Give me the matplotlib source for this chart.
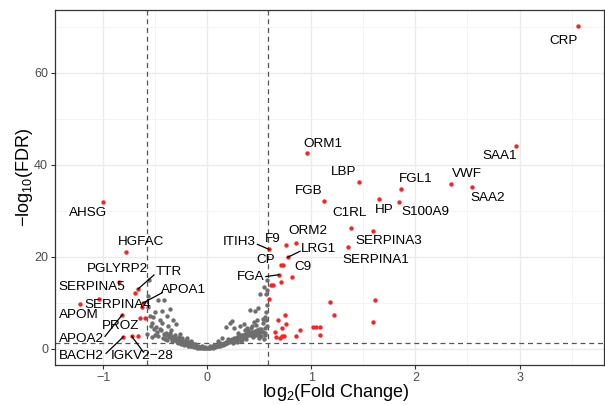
import matplotlib
matplotlib.use("Agg")
import matplotlib.pyplot as plt
import numpy as np

plt.rcParams['font.family'] = ['Liberation Sans', 'DejaVu Sans']
plt.rcParams['mathtext.default'] = 'regular'

# Significant proteins (FDR < 0.05, |log2 FC| > log2 1.5)
sig_genes = ["CRP", "SAA1", "ORM1", "LBP", "VWF", "SAA2", "FGL1", "HP", "FGB", "S100A9",
             "C1RL", "SERPINA3", "ORM2", "F9", "SERPINA1", "ITIH3", "LRG1", "CP", "", "FGA",
             "C9", "", "", "", "", "", "", "", "", "", "", "", "", "", "", "", "", "", "",
             "", "", "", "", "",
             "AHSG", "HGFAC", "PGLYRP2", "TTR", "", "SERPINA5", "APOM", "APOA1", "SERPINA4",
             "PROZ", "", "APOA2", "BACH2", "IGKV2-28", ""]
sig_lfc = [3.565, 2.962, 0.959, 1.462, 2.340, 2.542, 1.859, 1.648, 1.125, 1.843,
           1.379, 1.596, 0.850, 0.757, 1.353, 0.593, 0.773, 0.709, 0.731, 0.686,
           0.811, 0.709, 0.610, 0.629, 0.596, 1.613, 1.180, 1.218, 0.747, 0.683,
           1.590, 0.757, 1.019, 1.042, 1.081, 0.718, 0.888, 0.651, 1.081, 0.715,
           0.735, 0.856, 0.663, 0.702,
           -1.000, -0.785, -0.849, -0.666, -0.695, -1.041, -1.226, -0.621, -0.625,
           -0.650, -0.599, -0.818, -0.808, -0.727, -0.663]
sig_fdr = [70.2, 44.1, 42.5, 36.2, 35.8, 35.1, 34.8, 32.5, 32.2, 32.0,
           26.3, 25.5, 23.0, 22.5, 22.2, 21.6, 19.9, 18.2, 18.2, 16.1,
           15.6, 14.5, 13.95, 13.95, 10.9, 10.5, 10.1, 7.34, 7.41, 6.33,
           5.83, 5.46, 4.67, 4.82, 4.67, 4.60, 4.02, 3.74, 3.02, 2.87,
           2.72, 2.72, 2.66, 2.38,
           31.9, 21.1, 14.6, 13.0, 12.1, 10.8, 9.8, 9.93, 9.07,
           6.7, 6.7, 7.4, 2.6, 2.72, 2.8]

# Non-significant proteins
ns_lfc = [-0.56, -0.57, -0.47, -0.42, -0.36, -0.44, -0.55, -0.52, -0.46, -0.44,
          -0.54, -0.49, -0.33, -0.30, -0.38, -0.58, -0.50, -0.45, -0.40, -0.35,
          -0.42, -0.40, -0.38, -0.37, -0.35, -0.34, -0.33, -0.32, -0.31, -0.30,
          -0.29, -0.28, -0.27, -0.26, -0.25, -0.24, -0.23, -0.22, -0.21, -0.20,
          -0.19, -0.18, -0.17, -0.16, -0.15, -0.14, -0.13, -0.12, -0.11, -0.10,
          -0.09, -0.08, -0.07, -0.06, -0.05, -0.04, -0.03, -0.02, -0.01, -0.36,
          -0.31, -0.27, -0.24, -0.21, -0.18, -0.15, -0.12, -0.28, -0.22, -0.17,
          -0.13, -0.10, -0.26, -0.20, -0.16, -0.48, -0.43, -0.39, -0.53, -0.05,
          -0.51, -0.47, -0.41, -0.34, -0.29, -0.25, -0.19, -0.14, -0.08, -0.02,
          -0.57, -0.53, -0.50, -0.46, -0.39,
          0.01, 0.02, 0.03, 0.04, 0.05, 0.06, 0.07, 0.08, 0.09, 0.10,
          0.11, 0.12, 0.13, 0.14, 0.15, 0.16, 0.17, 0.18, 0.19, 0.20,
          0.21, 0.22, 0.23, 0.24, 0.25, 0.26, 0.27, 0.28, 0.29, 0.30,
          0.31, 0.32, 0.33, 0.34, 0.35, 0.36, 0.37, 0.38, 0.39, 0.40,
          0.41, 0.42, 0.43, 0.44, 0.45, 0.46, 0.47, 0.48, 0.49, 0.50,
          0.51, 0.52, 0.53, 0.55, 0.57, 0.22, 0.24, 0.18, 0.26, 0.31,
          0.35, 0.41, 0.46, 0.49, 0.57, 0.56, 0.51, 0.56, 0.54, 0.57,
          0.53, 0.55, 0.45, 0.48, 0.43, 0.38, 0.14, 0.10, 0.06, 0.03,
          0.52, 0.55, 0.44, 0.47, 0.33, 0.37, 0.28, 0.25, 0.50, 0.54,
          0.05, 0.12, 0.20, 0.29, 0.36, 0.42, 0.47, 0.53, 0.56, 0.39,
          0.44, 0.50, 0.55, 0.32, 0.57]
ns_fdr = [15.0, 11.5, 10.6, 10.5, 8.6, 8.3, 7.2, 6.9, 6.3, 5.7,
          4.9, 4.7, 6.2, 5.3, 5.0, 3.3, 3.0, 4.0, 3.5, 4.1,
          3.2, 2.9, 3.0, 2.5, 2.7, 2.2, 2.6, 2.0, 2.4, 1.9,
          2.2, 1.7, 2.0, 1.5, 1.8, 1.3, 1.6, 1.2, 1.4, 1.0,
          1.2, 0.9, 1.1, 0.7, 0.9, 0.6, 0.8, 0.5, 0.6, 0.4,
          0.5, 0.3, 0.4, 0.2, 0.3, 0.15, 0.2, 0.1, 0.1, 3.4,
          3.0, 2.6, 2.3, 1.9, 1.5, 1.3, 1.0, 1.2, 0.8, 0.6,
          0.4, 0.2, 3.2, 2.4, 1.8, 3.6, 2.3, 2.0, 2.5, 0.6,
          4.3, 2.8, 2.1, 1.6, 1.4, 1.1, 0.7, 0.5, 0.2, 0.3,
          9.0, 5.6, 8.0, 4.4, 7.2,
          0.1, 0.2, 0.15, 0.3, 0.25, 0.4, 0.35, 0.5, 0.6, 0.5,
          0.8, 0.7, 0.9, 1.1, 0.9, 1.3, 1.1, 1.5, 1.3, 1.7,
          1.5, 1.9, 1.6, 2.1, 1.8, 2.3, 2.0, 2.5, 2.2, 2.7,
          2.3, 2.9, 2.5, 3.0, 2.6, 3.2, 2.7, 3.3, 2.9, 3.4,
          3.0, 3.6, 3.1, 3.7, 3.2, 3.9, 3.4, 4.0, 3.5, 4.2,
          3.6, 4.4, 3.7, 4.6, 4.9, 5.6, 6.0, 4.7, 4.5, 4.9,
          5.3, 8.5, 8.2, 8.9, 9.6, 8.1, 11.9, 11.9, 13.5, 15.0,
          6.5, 7.0, 5.8, 6.3, 5.0, 4.6, 2.4, 1.6, 0.9, 0.5,
          2.8, 3.0, 2.6, 2.9, 1.9, 2.1, 1.4, 1.2, 2.4, 2.2,
          0.6, 1.3, 2.2, 3.4, 4.1, 4.5, 5.2, 5.5, 6.2, 3.8,
          2.7, 2.9, 3.5, 1.7, 12.8]

fc_cut = np.log2(1.5)
fdr_cut = -np.log10(0.05)

fig = plt.figure(figsize=(6.05, 4.05), dpi=100)
ax = fig.add_axes([0.091, 0.099, 0.907, 0.876])

ax.set_xlim(-1.464, 3.81)
ax.set_ylim(-3.5, 73.6)

ax.set_xticks([-1, 0, 1, 2, 3])
ax.set_xticks([-0.5, 0.5, 1.5, 2.5, 3.5], minor=True)
ax.set_yticks([0, 20, 40, 60])
ax.set_yticks([10, 30, 50, 70], minor=True)
ax.grid(True, which='major', color='#EBEBEB', lw=1.0, zorder=0)
ax.grid(True, which='minor', color='#F3F3F3', lw=0.6, zorder=0)
ax.set_axisbelow(True)
for s in ax.spines.values():
    s.set_color('#333333')
    s.set_linewidth(0.9)
ax.tick_params(which='major', length=3, color='#333333', labelcolor='#4D4D4D',
               labelsize=9, pad=2)
ax.tick_params(which='minor', length=0)
ax.set_xticklabels(['\u22121', '0', '1', '2', '3'])

ax.axvline(-fc_cut, color='#555555', lw=0.9, ls=(0, (4, 3)), zorder=1)
ax.axvline(fc_cut, color='#555555', lw=0.9, ls=(0, (4, 3)), zorder=1)
ax.axhline(fdr_cut, color='#555555', lw=0.9, ls=(0, (4, 3)), zorder=1)

ax.scatter(ns_lfc, ns_fdr, s=10, color='#6E6E6E', linewidths=0, zorder=2)
ax.scatter(sig_lfc, sig_fdr, s=10, color='#FF2020', linewidths=0, zorder=3)

# Label placement (data coordinates) and optional leader-line start points
label_pos = {
    "CRP": (3.42, 66.9), "SAA1": (2.805, 41.9), "ORM1": (1.106, 44.5),
    "LBP": (1.311, 38.4), "FGL1": (2.0, 36.9), "VWF": (2.494, 37.9),
    "SAA2": (2.692, 32.8), "FGB": (0.978, 34.3), "C1RL": (1.369, 29.5),
    "HP": (1.696, 30.2), "S100A9": (2.096, 29.7), "ORM2": (0.965, 25.5),
    "SERPINA3": (1.747, 23.4), "SERPINA1": (1.622, 19.4), "F9": (0.629, 23.9),
    "ITIH3": (0.308, 23.2), "LRG1": (1.067, 21.6), "CP": (0.564, 19.4),
    "C9": (0.914, 17.8), "FGA": (0.42, 15.5),
    "AHSG": (-1.147, 29.6), "HGFAC": (-0.638, 23.2), "PGLYRP2": (-0.865, 17.3),
    "TTR": (-0.375, 16.7), "SERPINA5": (-1.112, 13.4), "APOA1": (-0.231, 12.8),
    "SERPINA4": (-0.862, 9.5), "APOM": (-1.234, 7.3), "PROZ": (-0.833, 4.9),
    "APOA2": (-1.214, 2.2), "BACH2": (-1.214, -1.6), "IGKV2-28": (-0.625, -1.6),
}
leader_start = {
    "ITIH3": (0.481, 22.7), "LRG1": (0.891, 21.2), "FGA": (0.562, 15.7),
    "TTR": (-0.513, 16.05), "APOA1": (-0.433, 12.2), "APOA2": (-0.984, 2.7),
    "BACH2": (-0.974, -1.0), "IGKV2-28": (-0.615, -0.7),
}

for g, x, y in zip(sig_genes, sig_lfc, sig_fdr):
    if not g:
        continue
    tx, ty = label_pos[g]
    if g in leader_start:
        sx, sy = leader_start[g]
        ax.plot([sx, x], [sy, y], color='black', lw=0.9, zorder=4)
    ax.text(tx, ty, g.replace('-', '\u2212'), ha='center', va='center',
            fontsize=9.7, color='black', zorder=5)

ax.set_xlabel('log$_{2}$(Fold Change)', fontsize=13)
ax.xaxis.set_label_coords(0.512, -0.079)
ax.xaxis.label.set_va('center')
ax.set_ylabel('\u2212log$_{10}$(FDR)', fontsize=13)
ax.yaxis.set_label_coords(-0.055, 0.527)
ax.yaxis.label.set_va('center')

fig.savefig('out.png', dpi=100)
